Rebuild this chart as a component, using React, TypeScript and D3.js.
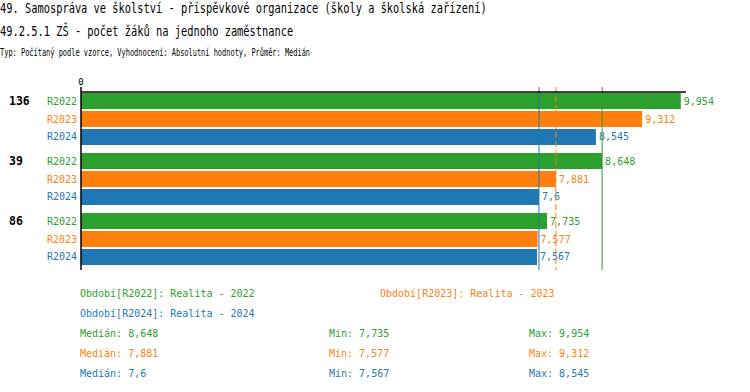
import React from 'react';
import * as d3 from 'd3';

const categories = ['136', '39', '86'];
const seriesKeys = ['R2022', 'R2023', 'R2024'];
const seriesColors = ['#2ca02c', '#ff7f0e', '#1f77b4'];
const seriesNames = ['Realita - 2022', 'Realita - 2023', 'Realita - 2024'];
// values[series][category]
const values = [
  [9.954, 8.648, 7.735],
  [9.312, 7.881, 7.577],
  [8.545, 7.6, 7.567],
];
const xMax = 10.04;

const title1 = '49. Samospráva ve školství - příspěvkové organizace (školy a školská zařízení)';
const title2 = '49.2.5.1 ZŠ - počet žáků na jednoho zaměstnance';
const subtitle = 'Typ: Počítaný podle vzorce, Vyhodnocení: Absolutní hodnoty, Průměr: Medián';

const MONO = '"DejaVu Sans Mono", "Liberation Mono", monospace';
const fmt = (v: number) => String(v).replace('.', ',');

// text squeezed to a fixed advance per character
const Squeezed = ({ x, y, text, size, adv, fill = '#000', weight = 'normal' }: any) => (
  <text
    x={x}
    y={y}
    fontFamily={MONO}
    fontSize={size}
    fontWeight={weight}
    fill={fill}
    textLength={text.length * adv}
    lengthAdjust="spacingAndGlyphs"
  >
    {text}
  </text>
);

export default function App() {
  const width = 750;
  const height = 392;

  const x = d3.scaleLinear().domain([0, xMax]).range([81, 686]);
  const yGroup = d3.scaleBand().domain(categories).range([93, 267]).paddingInner(0.1);
  const ySeries = d3.scaleBand().domain(seriesKeys).range([0, 52]).paddingInner(0.11);

  const medians = values.map(v => d3.median(v) as number);
  const mins = values.map(v => d3.min(v) as number);
  const maxs = values.map(v => d3.max(v) as number);

  const lineTop = 87;
  const lineBottom = 270;

  return (
    <svg width={width} height={height} style={{ position: 'absolute', left: 0, top: 0, background: '#fff' }}>
      <Squeezed x={0} y={13} text={title1} size={14} adv={6.24} />
      <Squeezed x={0} y={36} text={title2} size={14} adv={6.24} />
      <Squeezed x={0} y={56} text={subtitle} size={10} adv={4.19} />

      {/* bars */}
      {categories.map((c, ci) => (
        <g key={c} transform={`translate(0,${yGroup(c)})`}>
          <text x={9} y={ySeries.bandwidth() / 2 + 4} fontFamily={MONO} fontSize={11.5} fontWeight="bold" fill="#000">
            {c}
          </text>
          {seriesKeys.map((s, si) => {
            const yy = ySeries(s) as number;
            const v = values[si][ci];
            return (
              <g key={s}>
                <rect x={x(0)} y={yy} width={x(v) - x(0)} height={ySeries.bandwidth()} fill={seriesColors[si]} />
                <text
                  x={77}
                  y={yy + ySeries.bandwidth() / 2 + 3.5}
                  textAnchor="end"
                  fontFamily={MONO}
                  fontSize={10}
                  fill={seriesColors[si]}
                >
                  {s}
                </text>
                <text
                  x={x(v) + 3}
                  y={yy + ySeries.bandwidth() / 2 + 3.5}
                  fontFamily={MONO}
                  fontSize={10}
                  fill={seriesColors[si]}
                >
                  {fmt(v)}
                </text>
              </g>
            );
          })}
        </g>
      ))}

      {/* median lines */}
      {medians.map((m, i) => (
        <line
          key={i}
          x1={x(m)}
          x2={x(m)}
          y1={lineTop}
          y2={lineBottom}
          stroke={seriesColors[i]}
          strokeWidth={1}
          strokeDasharray={i === 1 ? '6,3' : undefined}
        />
      ))}

      {/* axes */}
      <line x1={x(0)} x2={x(xMax)} y1={92} y2={92} stroke="#000" strokeWidth={1.5} />
      <line x1={x(0)} x2={x(0)} y1={lineTop} y2={lineBottom} stroke="#000" strokeWidth={1.5} />
      <text x={x(0)} y={85} textAnchor="middle" fontFamily={MONO} fontSize={9} fill="#000">
        0
      </text>

      {/* legend */}
      {seriesKeys.map((s, i) => (
        <text
          key={s}
          x={i % 2 === 0 ? 80 : 380}
          y={297 + Math.floor(i / 2) * 20}
          fontFamily={MONO}
          fontSize={10}
          fill={seriesColors[i]}
        >
          {`Období[${s}]: ${seriesNames[i]}`}
        </text>
      ))}
      {seriesKeys.map((s, i) => (
        <g key={s} fontFamily={MONO} fontSize={10} fill={seriesColors[i]}>
          <text x={80} y={337 + i * 20}>{`Medián: ${fmt(medians[i])}`}</text>
          <text x={329} y={337 + i * 20}>{`Min: ${fmt(mins[i])}`}</text>
          <text x={529} y={337 + i * 20}>{`Max: ${fmt(maxs[i])}`}</text>
        </g>
      ))}
    </svg>
  );
}
